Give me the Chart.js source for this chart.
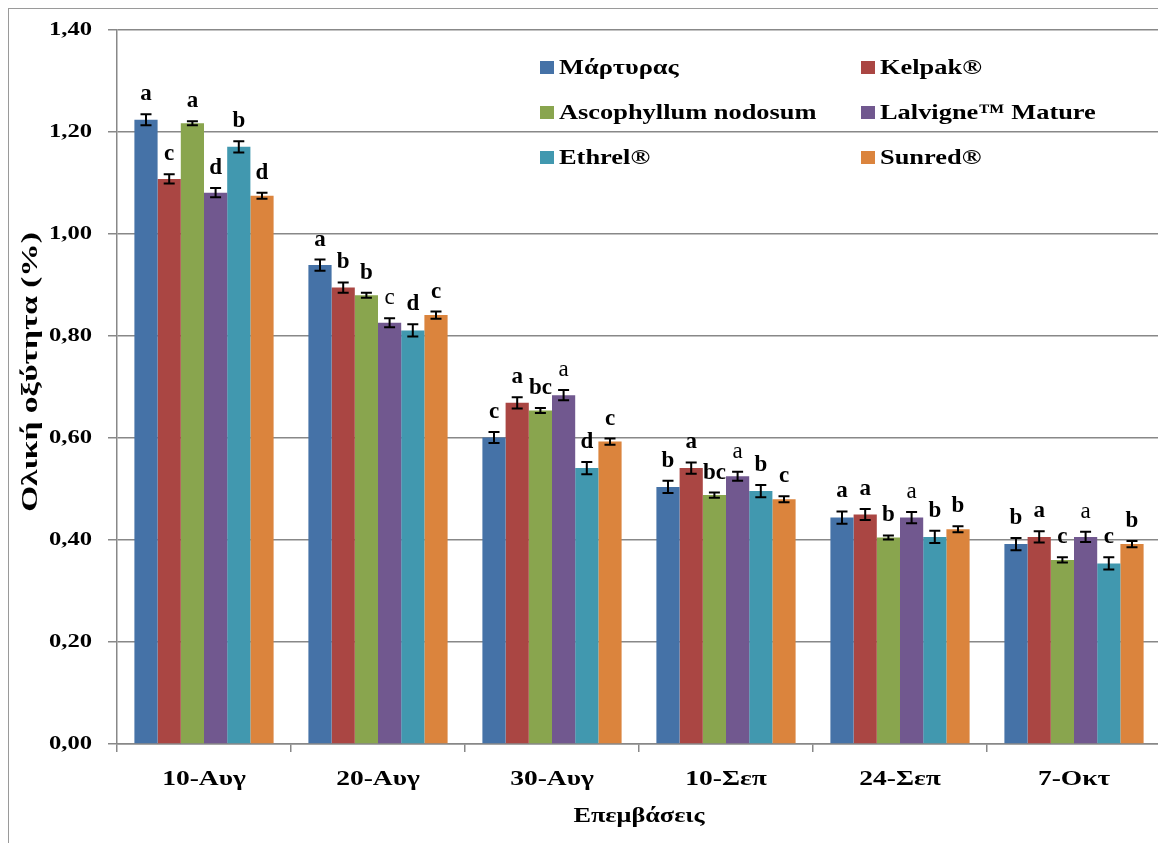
<!DOCTYPE html>
<html>
<head>
<meta charset="utf-8">
<script src="https://cdn.jsdelivr.net/npm/chart.js@4"></script>
<style>
  html, body { margin: 0; padding: 0; background: #fff; overflow: hidden; }
  #wrap { width: 1170px; height: 843px; }
</style>
</head>
<body>
<div id="wrap"><canvas id="chart-acidity"></canvas></div>
<script>
// Total acidity (%) per sampling date and treatment, with SE and Duncan letters.

const dates = ['10-Αυγ', '20-Αυγ', '30-Αυγ', '10-Σεπ', '24-Σεπ', '7-Οκτ'];
const treatments = ['Μάρτυρας', 'Kelpak®', 'Ascophyllum nodosum', 'Lalvigne™ Mature', 'Ethrel®', 'Sunred®'];

const martyras = [1.224, 0.939, 0.601, 0.504, 0.444, 0.392];
const kelpak = [1.108, 0.895, 0.669, 0.541, 0.450, 0.406];
const ascophyllum = [1.217, 0.880, 0.654, 0.488, 0.405, 0.361];
const lalvigne = [1.081, 0.826, 0.684, 0.525, 0.444, 0.406];
const ethrel = [1.171, 0.811, 0.541, 0.496, 0.406, 0.354];
const sunred = [1.075, 0.841, 0.593, 0.480, 0.421, 0.392];

const errMartyras = [0.011, 0.011, 0.011, 0.012, 0.012, 0.012];
const errKelpak = [0.009, 0.010, 0.011, 0.011, 0.011, 0.011];
const errAscophyllum = [0.004, 0.005, 0.005, 0.005, 0.004, 0.005];
const errLalvigne = [0.009, 0.009, 0.010, 0.009, 0.011, 0.010];
const errEthrel = [0.011, 0.012, 0.012, 0.012, 0.012, 0.012];
const errSunred = [0.006, 0.007, 0.006, 0.006, 0.006, 0.006];

const lettersMartyras = ['a', 'a', 'c', 'b', 'a', 'b'];
const lettersKelpak = ['c', 'b', 'a', 'a', 'a', 'a'];
const lettersAscophyllum = ['a', 'b', 'bc', 'bc', 'b', 'c'];
const lettersLalvigne = ['d', 'c', 'a', 'a', 'a', 'a'];
const lettersEthrel = ['b', 'd', 'd', 'b', 'b', 'c'];
const lettersSunred = ['d', 'c', 'c', 'c', 'b', 'b'];

const yTicks = [0, 0.2, 0.4, 0.6, 0.8, 1.0, 1.2, 1.4];

const colors = ['#4572A7', '#AA4643', '#89A54E', '#71588F', '#4198AF', '#DB843D'];
const values = [martyras, kelpak, ascophyllum, lalvigne, ethrel, sunred];
const errors = [errMartyras, errKelpak, errAscophyllum, errLalvigne, errEthrel, errSunred];
const letters = [lettersMartyras, lettersKelpak, lettersAscophyllum, lettersLalvigne, lettersEthrel, lettersSunred];

const SERIF = "'Liberation Serif', 'Times New Roman', serif";
const GRID = '#888888';

// text drawn in a wide face: stretched along its baseline
function drawWide(ctx, text, x, y, opts) {
    ctx.save();
    ctx.translate(x, y);
    if (opts.rotate) ctx.rotate(opts.rotate);
    ctx.scale(opts.stretch || 1, 1);
    ctx.font = `${opts.weight || 'bold'} ${opts.size}px ${SERIF}`;
    ctx.fillStyle = '#000';
    ctx.textAlign = opts.align || 'center';
    ctx.textBaseline = 'middle';
    ctx.fillText(text, 0, 0);
    ctx.restore();
}

// frame around the whole figure
const framePlugin = {
    id: 'frame',
    beforeDraw(chart) {
        const ctx = chart.ctx;
        ctx.save();
        ctx.strokeStyle = '#9a9a9a';
        ctx.lineWidth = 1;
        ctx.strokeRect(8.5, 8.5, 1300, 900);
        ctx.restore();
    },
};

// tick labels and axis titles
const axisTextPlugin = {
    id: 'axisText',
    afterDraw(chart) {
        const ctx = chart.ctx;
        const { x, y } = chart.scales;
        const area = chart.chartArea;

        yTicks.forEach(v => {
            const label = v.toFixed(2).replace('.', ',');
            drawWide(ctx, label, area.left - 25, y.getPixelForValue(v),
                { size: 18.5, stretch: 1.33, align: 'right' });
        });
        chart.data.labels.forEach((label, i) => {
            drawWide(ctx, label, x.getPixelForValue(i), area.bottom + 35,
                { size: 22, stretch: 1.25 });
        });
        drawWide(ctx, 'Επεμβάσεις', (area.left + area.right) / 2, area.bottom + 73,
            { size: 20.5, stretch: 1.28 });
        drawWide(ctx, 'Ολική οξύτητα (%)', 31, 372,
            { size: 23.5, stretch: 1.42, rotate: -Math.PI / 2 });
    },
};

// error bars and significance letters on top of each bar
const errorBarPlugin = {
    id: 'errorBars',
    afterDatasetsDraw(chart) {
        const ctx = chart.ctx;
        const y = chart.scales.y;
        ctx.save();
        chart.data.datasets.forEach((ds, i) => {
            const meta = chart.getDatasetMeta(i);
            meta.data.forEach((bar, j) => {
                const v = ds.data[j];
                const e = ds.errors[j];
                const top = y.getPixelForValue(v + e);
                const bot = y.getPixelForValue(v - e);
                const bx = bar.x;
                ctx.strokeStyle = '#000';
                ctx.lineWidth = 2;
                ctx.beginPath();
                ctx.moveTo(bx, top); ctx.lineTo(bx, bot);
                ctx.moveTo(bx - 5.5, top); ctx.lineTo(bx + 5.5, top);
                ctx.moveTo(bx - 5.5, bot); ctx.lineTo(bx + 5.5, bot);
                ctx.stroke();

                const weight = ds.letterWeight ? ds.letterWeight[j] : 'bold';
                ctx.font = `${weight} 23px ${SERIF}`;
                ctx.fillStyle = '#000';
                ctx.textAlign = 'center';
                ctx.textBaseline = 'alphabetic';
                ctx.fillText(ds.letters[j], bx, top - 14);
            });
        });
        ctx.restore();
    },
};

// two-column legend placed inside the plot area
const legendPlugin = {
    id: 'gridLegend',
    afterDraw(chart) {
        const ctx = chart.ctx;
        const area = chart.chartArea;
        const cols = [area.left + 423, area.left + 744];
        const rows = [area.top + 38, area.top + 83, area.top + 128];
        chart.data.datasets.forEach((ds, i) => {
            const cx = cols[i % 2];
            const cy = rows[Math.floor(i / 2)];
            ctx.fillStyle = ds.backgroundColor;
            ctx.fillRect(cx, cy - 7, 14, 13);
            drawWide(ctx, ds.label, cx + 19, cy, { size: 22, stretch: 1.2, align: 'left' });
        });
    },
};

const datasets = treatments.map((name, i) => ({
    label: name,
    data: values[i],
    errors: errors[i],
    letters: letters[i],
    letterWeight: i === 3 ? ['bold', 'normal', 'normal', 'normal', 'normal', 'normal'] : null,
    backgroundColor: colors[i],
    borderWidth: 0,
    barPercentage: 1.0,
    categoryPercentage: 0.8,
}));

new Chart(document.getElementById('chart-acidity'), {
    type: 'bar',
    data: { labels: dates, datasets: datasets },
    options: {
        responsive: true,
        maintainAspectRatio: false,
        animation: false,
        layout: { padding: { left: 0, top: 30, right: 9, bottom: 0 } },
        plugins: {
            legend: { display: false },
            tooltip: { enabled: false },
        },
        scales: {
            x: {
                grid: {
                    offset: true,
                    drawOnChartArea: false,
                    drawTicks: true,
                    tickLength: 8,
                    color: GRID,
                    lineWidth: 1.5,
                },
                border: { color: GRID, width: 1.5 },
                ticks: { display: false },
                afterFit(scale) { scale.height = 99; },
            },
            y: {
                min: 0,
                max: 1.4,
                afterBuildTicks(scale) {
                    scale.ticks = yTicks.map(v => ({ value: v }));
                },
                grid: {
                    color: GRID,
                    lineWidth: 1.5,
                    drawTicks: true,
                    tickLength: 9,
                },
                border: { color: GRID, width: 1.5 },
                ticks: { display: false },
                afterFit(scale) { scale.width = 117; },
            },
        },
    },
    plugins: [framePlugin, errorBarPlugin, legendPlugin, axisTextPlugin],
});
</script>
</body>
</html>
